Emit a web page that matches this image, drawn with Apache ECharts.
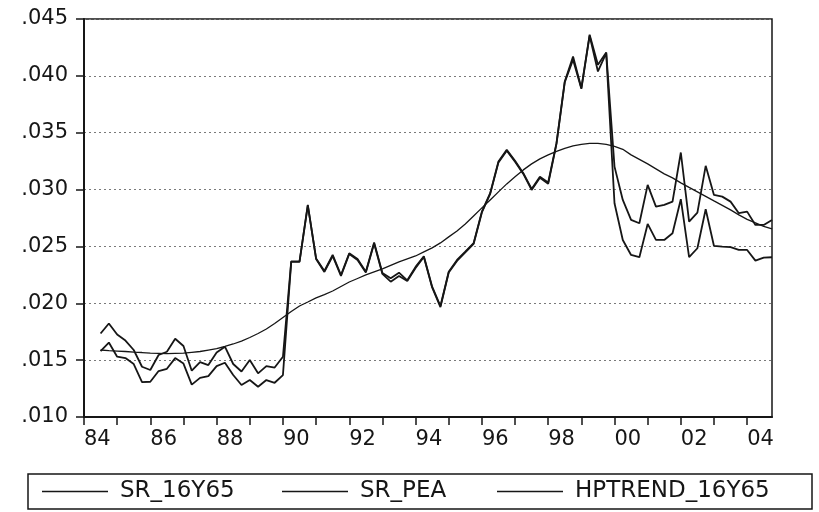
<!DOCTYPE html>
<html>
<head>
<meta charset="utf-8">
<script src="https://cdn.jsdelivr.net/npm/echarts@6/dist/echarts.min.js"></script>
<style>
  html, body { margin: 0; padding: 0; background: #fff; }
  #chart-container { width: 819px; height: 512px; }
</style>
</head>
<body>
<div id="chart-container"></div>
<script>
// quarterly sample, first observation 1984Q3, last 2004Q4
const firstYear = 1984;
const firstQuarter = 3;

// SR_16Y65 (upper line before 1990 and after 2000)
const sr16y65 = [
  0.01734, 0.01822, 0.01725, 0.01672, 0.01589, 0.01442, 0.01413, 0.01545,
  0.01574, 0.01688, 0.01624, 0.01407, 0.01483, 0.01457, 0.01567, 0.01618,
  0.01466, 0.01400, 0.01501, 0.01384, 0.01448, 0.01435, 0.01530, 0.02368,
  0.02368, 0.02865, 0.02394, 0.02284, 0.02425, 0.02249, 0.02440, 0.02390,
  0.02278, 0.02535, 0.02267, 0.02220, 0.02269, 0.02202, 0.02320, 0.02414,
  0.02146, 0.01976, 0.02278, 0.02381, 0.02454, 0.02528, 0.02806, 0.02968,
  0.03246, 0.03349, 0.03253, 0.03144, 0.03006, 0.03112, 0.03062, 0.03408,
  0.03951, 0.04171, 0.03893, 0.04362, 0.04098, 0.04206, 0.03202, 0.02909,
  0.02733, 0.02704, 0.03041, 0.02850, 0.02865, 0.02894, 0.03326, 0.02718,
  0.02798, 0.03209, 0.02953, 0.02938, 0.02894, 0.02792, 0.02806, 0.02689,
  0.02689, 0.02733
];

// SR_PEA
const srPea = [
  0.01580, 0.01655, 0.01530, 0.01518, 0.01466, 0.01307, 0.01310, 0.01404,
  0.01424, 0.01518, 0.01470, 0.01285, 0.01344, 0.01360, 0.01448, 0.01477,
  0.01369, 0.01281, 0.01325, 0.01266, 0.01325, 0.01301, 0.01369, 0.02364,
  0.02364, 0.02861, 0.02390, 0.02276, 0.02416, 0.02240, 0.02434, 0.02381,
  0.02271, 0.02526, 0.02258, 0.02190, 0.02240, 0.02196, 0.02311, 0.02408,
  0.02139, 0.01967, 0.02271, 0.02372, 0.02447, 0.02522, 0.02799, 0.02962,
  0.03239, 0.03341, 0.03244, 0.03138, 0.02997, 0.03103, 0.03050, 0.03402,
  0.03944, 0.04142, 0.03886, 0.04353, 0.04039, 0.04199, 0.02880, 0.02557,
  0.02425, 0.02405, 0.02698, 0.02557, 0.02557, 0.02616, 0.02915, 0.02405,
  0.02484, 0.02827, 0.02504, 0.02498, 0.02493, 0.02469, 0.02469, 0.02375,
  0.02401, 0.02405
];

// HPTREND_16Y65
const hpTrend = [
  0.01589, 0.01584, 0.01580, 0.01576, 0.01571, 0.01567, 0.01562, 0.01560,
  0.01558, 0.01560, 0.01562, 0.01569, 0.01576, 0.01589, 0.01602, 0.01620,
  0.01642, 0.01668, 0.01699, 0.01734, 0.01774, 0.01822, 0.01875, 0.01928,
  0.01976, 0.02011, 0.02047, 0.02077, 0.02108, 0.02148, 0.02187, 0.02218,
  0.02249, 0.02276, 0.02302, 0.02333, 0.02364, 0.02390, 0.02416, 0.02452,
  0.02487, 0.02531, 0.02584, 0.02636, 0.02698, 0.02768, 0.02839, 0.02909,
  0.02980, 0.03050, 0.03112, 0.03173, 0.03226, 0.03270, 0.03305, 0.03336,
  0.03363, 0.03385, 0.03398, 0.03407, 0.03407, 0.03398, 0.03380, 0.03354,
  0.03305, 0.03266, 0.03226, 0.03182, 0.03138, 0.03103, 0.03059, 0.03019,
  0.02980, 0.02940, 0.02900, 0.02861, 0.02821, 0.02777, 0.02738, 0.02707,
  0.02676, 0.02654
];

const seriesNames = ['SR_16Y65', 'SR_PEA', 'HPTREND_16Y65'];

// axis ticks (every year) and labels (every other year)
const tickYears = [1984, 1985, 1986, 1987, 1988, 1989, 1990, 1991, 1992, 1993, 1994,
  1995, 1996, 1997, 1998, 1999, 2000, 2001, 2002, 2003, 2004];
const labelYears = [1984, 1986, 1988, 1990, 1992, 1994, 1996, 1998, 2000, 2002, 2004];


// turn quarter index into a fractional year (start of the quarter)
function quarterTime(i)
{
   var q = (firstQuarter - 1) + i;
   return firstYear + Math.floor(q / 4) + (q % 4) / 4;
}

function toPairs(values)
{
   return values.map((v, i) => [quarterTime(i), v]);
}

var dom = document.getElementById('chart-container');
var myChart = echarts.init(dom, null, { renderer: 'canvas' });

const ink = '#161616';
const font = 'DejaVu Sans';

var option =
{
   animation: false,
   backgroundColor: '#ffffff',
   grid:
   {
      left: 84, right: 47, top: 19, bottom: 95,
      show: true,
      borderColor: ink,
      borderWidth: 1.5,
      outerBoundsMode: 'none'
   },
   xAxis:
   {
      type: 'value',
      min: 1984,
      max: 2004.75,
      axisLine: { show: true, onZero: false, lineStyle: { color: ink, width: 2 } },
      axisTick: { show: true, length: 8, customValues: tickYears, lineStyle: { color: ink, width: 1.5 } },
      axisLabel:
      {
         customValues: labelYears,
         align: 'left',
         margin: 12,
         color: ink,
         fontFamily: font,
         fontSize: 21,
         formatter: v => String(Math.round(v) % 100).padStart(2, '0')
      },
      splitLine: { show: false }
   },
   yAxis:
   {
      type: 'value',
      min: 0.010,
      max: 0.045,
      interval: 0.005,
      axisLine: { show: true, lineStyle: { color: ink, width: 2 } },
      axisTick: { show: true, length: 8, lineStyle: { color: ink, width: 1.5 } },
      axisLabel:
      {
         margin: 16,
         color: ink,
         fontFamily: font,
         fontSize: 21,
         formatter: v => v.toFixed(3).replace(/^0/, '')
      },
      splitLine: { show: true, lineStyle: { color: '#7a7a7a', width: 1, type: [2, 3] } }
   },
   legend:
   [
      // one legend per entry so each sits where the original has it
      { data: [seriesNames[0]], left: 42 },
      { data: [seriesNames[1]], left: 282 },
      { data: [seriesNames[2]], left: 497 }
   ].map(l => Object.assign(l,
   {
      top: 480,
      padding: 0,
      icon: 'rect',
      itemWidth: 66,
      itemHeight: 1.5,
      textStyle: { color: ink, fontFamily: font, fontSize: 23, padding: [0, 0, 0, 7] }
   })),
   graphic:
   [
      // legend frame
      {
         type: 'rect',
         shape: { x: 28, y: 474, width: 784, height: 35 },
         style: { fill: 'none', stroke: ink, lineWidth: 1.5 }
      }
   ],
   series:
   [
      {
         name: seriesNames[0],
         type: 'line',
         data: toPairs(sr16y65),
         symbol: 'none',
         color: ink,
         lineStyle: { color: ink, width: 1.8 }
      },
      {
         name: seriesNames[1],
         type: 'line',
         data: toPairs(srPea),
         symbol: 'none',
         color: ink,
         lineStyle: { color: ink, width: 1.8 }
      },
      {
         name: seriesNames[2],
         type: 'line',
         data: toPairs(hpTrend),
         symbol: 'none',
         color: ink,
         lineStyle: { color: ink, width: 1.3 }
      }
   ]
};

myChart.setOption(option);
</script>
</body>
</html>
